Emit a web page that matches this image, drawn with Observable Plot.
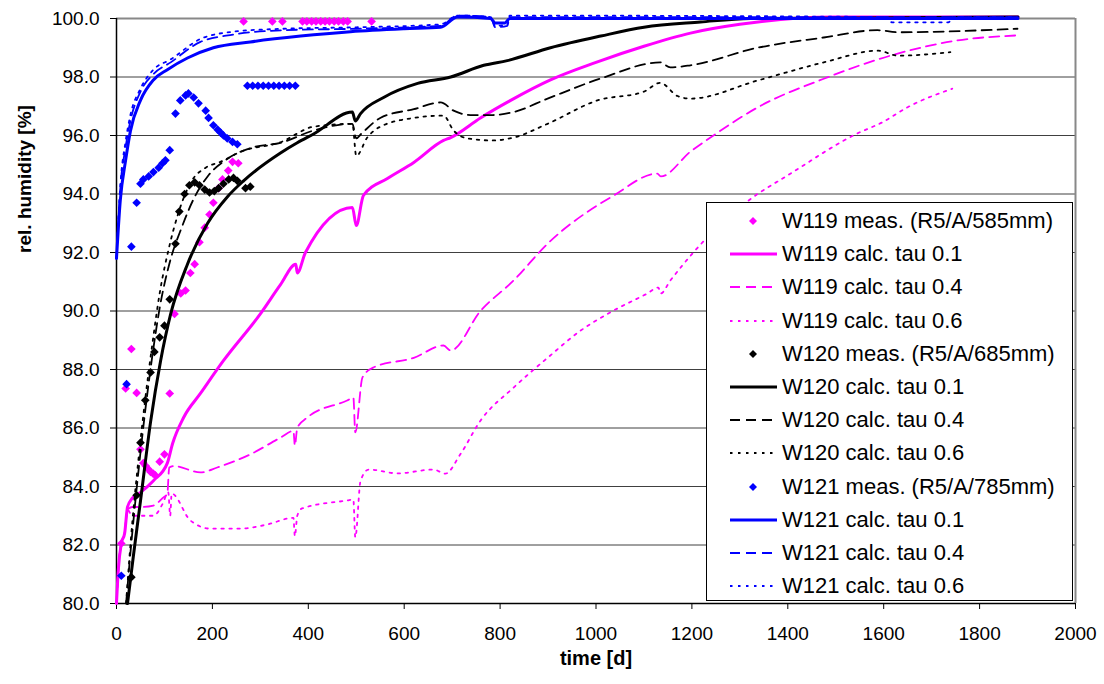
<!DOCTYPE html>
<html>
<head>
<meta charset="utf-8">
<script src="https://cdn.jsdelivr.net/npm/d3@7"></script>
<script src="https://cdn.jsdelivr.net/npm/@observablehq/plot@0.6"></script>
<style>
  html, body { margin: 0; padding: 0; background: #fff; }
  #wrap { position: relative; width: 1104px; height: 684px; font-family: "Liberation Sans", Arial, sans-serif; }
  #legend { position: absolute; left: 706px; top: 202px; width: 367px; height: 399px; border: 1px solid #000; background: #fff; box-sizing: border-box; }
  .row { position: absolute; left: 0; height: 30px; }
  .row svg { position: absolute; left: 22px; top: 0; }
  .row span { position: absolute; left: 75px; white-space: nowrap; font-size: 22px; line-height: 30px; top: 0; color: #000; }
</style>
</head>
<body>
<div id="wrap"><div id="chart"></div><div id="legend"></div></div>
<script>
// ---------- data ----------
const xTicks = [0, 200, 400, 600, 800, 1000, 1200, 1400, 1600, 1800, 2000];
const yTicks = [80, 82, 84, 86, 88, 90, 92, 94, 96, 98, 100];

// W119 (R5/A/585mm)
const w119Meas = [[10,82.05],[19,87.35],[31,88.7],[42,87.2],[50,85.27],[56,84.8],[61,84.7],[66,84.6],[71,84.5],[76,84.45],[81,84.38],[90,84.85],[100,85.1],[111,87.18],[121,89.9],[134,90.6],[144,90.7],[154,91.3],[163,91.6],[173,92.35],[184,92.85],[194,93.3],[202,93.7],[213,94.2],[221,94.5],[233,94.8],[242,95.1],[254,95.05],[265,99.9],[325,99.9],[346,99.9],[388,99.9],[397,99.9],[407,99.9],[416,99.9],[426,99.9],[435,99.9],[444,99.9],[454,99.9],[463,99.9],[473,99.9],[482,99.9],[532,99.9]];
const w119Tau01 = [[0,80],[4,81.2],[10,82.05],[17,82.4],[23,83.3],[33,83.6],[50,83.8],[77,84.2],[106,84.8],[117,85.47],[140,86.36],[175,87.18],[223,88.3],[300,89.9],[342,90.9],[374,91.6],[377,91.3],[394,92.0],[492,93.54],[500,92.92],[515,93.95],[565,94.53],[620,95.08],[682,95.83],[697,95.93],[759,96.6],[822,97.2],[905,97.9],[1000,98.5],[1100,99.05],[1197,99.5],[1300,99.8],[1495,100.05],[1880,100.05]];
const w119Tau04 = [[0,80],[4,81.2],[10,82.05],[17,82.4],[23,83.2],[33,83.3],[50,83.3],[77,83.35],[96,83.6],[106,83.76],[110,84.65],[120,84.7],[175,84.48],[210,84.65],[279,85.1],[342,85.67],[369,85.9],[372,85.4],[377,86.0],[398,86.36],[481,86.94],[494,87.04],[498,85.85],[513,87.73],[536,88.07],[620,88.4],[682,88.82],[697,88.65],[759,90.0],[828,91.04],[899,92.3],[1037,93.95],[1128,94.7],[1135,94.6],[1197,95.45],[1245,96.0],[1337,96.96],[1475,97.94],[1614,98.73],[1754,99.25],[1875,99.42]];
const w119Tau06 = [[0,80],[4,81.2],[10,82.05],[17,82.4],[23,83.2],[33,83.0],[50,83.0],[77,83.0],[96,83.4],[108,83.8],[112,83.0],[115,83.76],[154,82.84],[196,82.56],[259,82.56],[314,82.7],[369,82.93],[372,82.3],[377,83.0],[387,83.25],[481,83.52],[494,83.55],[498,82.26],[509,84.2],[526,84.58],[586,84.45],[661,84.58],[686,84.44],[717,85.1],[759,86.25],[828,87.38],[899,88.4],[968,89.33],[1024,89.9],[1107,90.6],[1130,90.8],[1135,90.6],[1155,91.04],[1203,92.0],[1316,93.75],[1406,94.7],[1545,96.07],[1597,96.45],[1649,96.96],[1743,97.6]];

// W120 (R5/A/685mm)
const w120Meas = [[31,80.9],[42,83.7],[50,85.5],[60,86.95],[71,87.9],[79,88.6],[90,89.1],[100,89.5],[111,90.4],[123,92.3],[131,93.4],[142,94.0],[152,94.3],[163,94.4],[173,94.3],[184,94.15],[194,94.05],[204,94.1],[213,94.2],[223,94.35],[234,94.5],[244,94.55],[252,94.45],[269,94.2],[279,94.25]];
const w120Tau01 = [[23,80],[35,81.6],[50,83.5],[71,86.2],[92,88.3],[113,89.9],[148,91.6],[190,93.0],[231,93.9],[265,94.45],[342,95.4],[377,95.75],[411,96.05],[492,96.8],[498,96.5],[509,96.75],[557,97.3],[628,97.78],[697,98.0],[766,98.4],[815,98.56],[905,99.0],[1010,99.4],[1100,99.7],[1218,99.88],[1322,100.0],[1880,100.05]];
const w120Tau04 = [[20,80],[30,81.9],[45,84.4],[60,86.6],[75,88.5],[90,90.1],[110,91.6],[137,92.9],[160,93.8],[190,94.6],[231,95.2],[286,95.6],[342,95.75],[411,96.17],[492,96.4],[500,95.9],[510,96.05],[550,96.6],[620,96.9],[676,97.13],[703,96.85],[738,96.7],[786,96.7],[828,96.8],[899,97.26],[1010,97.95],[1134,98.5],[1155,98.33],[1197,98.4],[1337,99.0],[1475,99.35],[1587,99.6],[1629,99.53],[1879,99.65]];
const w120Tau06 = [[20,80],[30,82.2],[45,84.8],[60,87.0],[75,88.9],[90,90.6],[110,92.2],[130,93.4],[155,94.4],[186,94.9],[217,95.1],[260,95.45],[342,95.77],[411,96.3],[492,96.4],[500,95.3],[523,95.93],[550,96.3],[620,96.6],[682,96.68],[703,96.17],[732,95.9],[786,95.83],[828,95.93],[899,96.4],[1003,97.2],[1100,97.5],[1134,97.8],[1170,97.35],[1197,97.26],[1337,97.88],[1475,98.5],[1589,98.9],[1629,98.73],[1739,98.85]];

// W121 (R5/A/785mm)
const w121Meas = [[10,80.95],[21,87.5],[31,92.2],[42,93.7],[50,94.35],[56,94.5],[67,94.6],[77,94.75],[88,94.9],[96,95.05],[102,95.15],[111,95.5],[123,96.75],[133,97.2],[144,97.37],[150,97.44],[161,97.3],[171,97.1],[186,96.85],[192,96.6],[202,96.35],[211,96.2],[217,96.1],[223,96.0],[231,95.9],[242,95.78],[252,95.7],[273,97.7],[284,97.7],[295,97.7],[306,97.7],[317,97.7],[328,97.7],[339,97.7],[350,97.7],[361,97.7],[373,97.7]];
const w121Tau01 = [[0,91.8],[8,93.8],[19,95.15],[29,96.15],[50,97.2],[77,97.9],[106,98.25],[148,98.65],[202,99.0],[279,99.2],[384,99.4],[488,99.55],[600,99.65],[676,99.7],[711,100.05],[780,100.0],[790,99.85],[810,99.85],[820,100.0],[1000,100.0],[1880,100.0]];
const w121Tau04 = [[0,91.8],[8,94.2],[19,95.6],[29,96.5],[50,97.5],[77,98.1],[113,98.5],[175,99.2],[244,99.45],[348,99.6],[500,99.65],[676,99.75],[711,100.1],[780,100.05],[790,99.7],[815,99.75],[820,100.05],[1600,100.05],[1880,100.05]];
const w121Tau06 = [[0,91.8],[8,94.3],[19,95.8],[29,96.7],[50,97.6],[77,98.25],[113,98.6],[175,99.3],[244,99.55],[348,99.65],[500,99.7],[676,99.8],[711,100.1],[780,100.05],[790,99.75],[815,99.8],[820,100.1],[1600,100.05],[1618,99.87],[1735,99.87],[1745,100.05],[1880,100.05]];

const legendLabels = ["W119 meas. (R5/A/585mm)","W119 calc. tau 0.1","W119 calc. tau 0.4","W119 calc. tau 0.6","W120 meas. (R5/A/685mm)","W120 calc. tau 0.1","W120 calc. tau 0.4","W120 calc. tau 0.6","W121 meas. (R5/A/785mm)","W121 calc. tau 0.1","W121 calc. tau 0.4","W121 calc. tau 0.6"];

// ---------- styles ----------
const PINK = "#ff00ff", BLACK = "#000000", BLUE = "#0000ff";
const styles = {
  solid:  {strokeWidth: 3, dash: null},
  dashed: {strokeWidth: 1.8, dash: "10,6"},
  dotted: {strokeWidth: 1.8, dash: "2.5,5.5"}
};
const series = [
  {kind: "meas", data: w119Meas, color: PINK},
  {kind: "solid", data: w119Tau01, color: PINK},
  {kind: "dashed", data: w119Tau04, color: PINK},
  {kind: "dotted", data: w119Tau06, color: PINK},
  {kind: "meas", data: w120Meas, color: BLACK},
  {kind: "solid", data: w120Tau01, color: BLACK},
  {kind: "dashed", data: w120Tau04, color: BLACK},
  {kind: "dotted", data: w120Tau06, color: BLACK},
  {kind: "meas", data: w121Meas, color: BLUE},
  {kind: "solid", data: w121Tau01, color: BLUE},
  {kind: "dashed", data: w121Tau04, color: BLUE},
  {kind: "dotted", data: w121Tau06, color: BLUE}
];

const seriesMarks = series.map(s => {
  if (s.kind === "meas") {
    return Plot.dot(s.data, {x: d => d[0], y: d => d[1], symbol: "diamond2", r: 3.9, fill: s.color, stroke: "none"});
  }
  const st = styles[s.kind];
  return Plot.line(s.data, {x: d => d[0], y: d => d[1], stroke: s.color, strokeWidth: st.strokeWidth, strokeDasharray: st.dash, curve: "monotone-x"});
});

const chart = Plot.plot({
  width: 1104,
  height: 684,
  marginLeft: 116,
  marginRight: 29,
  marginTop: 18,
  marginBottom: 81,
  x: {domain: [0, 2000]},
  y: {domain: [80, 100]},
  style: {fontFamily: "'Liberation Sans', Arial, sans-serif", fontSize: "19px", background: "white", overflow: "visible", color: "#000"},
  marks: [
    Plot.gridY({ticks: yTicks, stroke: "#000", strokeOpacity: 0.75, strokeWidth: 1}),
    Plot.ruleY([100], {stroke: "#888", strokeWidth: 2}),
    Plot.ruleX([2000], {y1: 80, y2: 100, stroke: "#888", strokeWidth: 2}),
    Plot.axisY({ticks: yTicks, tickFormat: d => d.toFixed(1), tickSize: 6, tickPadding: 11, label: null, fontSize: 19}),
    Plot.axisX({ticks: xTicks, tickFormat: d => String(d), tickSize: 6, tickPadding: 17, label: null, fontSize: 19}),
    Plot.ruleX([0], {stroke: "#000", strokeWidth: 1.5}),
    Plot.ruleY([80], {stroke: "#000", strokeWidth: 1.5}),
    ...seriesMarks,
    Plot.text(["rel. humidity [%]"], {frameAnchor: "left", textAnchor: "middle", dx: -92, dy: -132, rotate: -90, fontWeight: "bold", fontSize: 19, fill: "#000"}),
    Plot.text(["time [d]"], {frameAnchor: "bottom", textAnchor: "middle", dy: 61, fontWeight: "bold", fontSize: 20, fill: "#000"})
  ]
});
document.getElementById("chart").appendChild(chart);

// ---------- legend ----------
const legend = document.getElementById("legend");
series.forEach((s, i) => {
  const row = document.createElement("div");
  row.className = "row";
  row.style.top = (3 + i * 33.2) + "px";
  let sw;
  if (s.kind === "meas") {
    sw = `<svg width="48" height="30"><path d="M24,11 L28,15 L24,19 L20,15 Z" fill="${s.color}"/></svg>`;
  } else {
    const st = styles[s.kind];
    sw = `<svg width="48" height="30"><line x1="1" y1="15" x2="48" y2="15" stroke="${s.color}" stroke-width="${st.strokeWidth}" ${st.dash ? `stroke-dasharray="${st.dash}"` : ""}/></svg>`;
  }
  row.innerHTML = sw + `<span>${legendLabels[i]}</span>`;
  legend.appendChild(row);
});
</script>
</body>
</html>
